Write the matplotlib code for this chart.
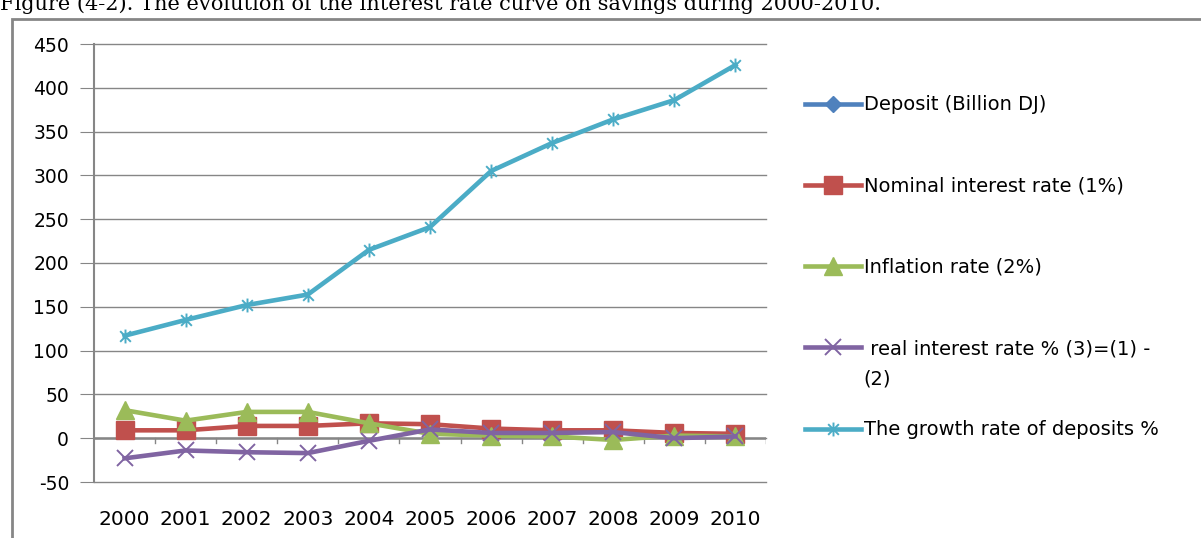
import numpy as np
import matplotlib.pyplot as plt
from matplotlib.path import Path
from matplotlib.patches import Rectangle

years = ["2000", "2001", "2002", "2003", "2004", "2005",
         "2006", "2007", "2008", "2009", "2010"]
nominal_rate = [9, 9, 14, 14, 17, 16, 11, 9, 9, 6, 5]
inflation_rate = [32, 20, 30, 30, 17, 5, 3, 2, -2, 3, 2]
real_rate = [-23, -14, -16, -17, -3, 10, 6, 6, 7, 0, 2]
deposit_growth = [117, 135, 152, 164, 215, 241, 305, 337, 364, 386, 426]

series_labels = ["Deposit (Billion DJ)", "Nominal interest rate (1%)",
                 "Inflation rate (2%)", " real interest rate % (3)=(1) -",
                 "The growth rate of deposits %"]

blue = "#4F81BD"
red = "#C0504D"
green = "#9BBB59"
purple = "#8064A2"
cyan = "#4BACC6"
grid_c = "#868686"

# asterisk marker: an x with a vertical stroke through it
star = Path([(-1, -1), (1, 1), (-1, 1), (1, -1), (0, -1.3), (0, 1.3)],
            [Path.MOVETO, Path.LINETO, Path.MOVETO, Path.LINETO,
             Path.MOVETO, Path.LINETO])

plt.rcParams['font.family'] = ['DejaVu Sans']
plt.rcParams['axes.unicode_minus'] = False

fig = plt.figure(figsize=(12.01, 5.38), dpi=100)

fig.text(0.0, 1.0 - 10 / 538, "Figure (4-2). The evolution of the interest rate curve on savings during 2000-2010.",
         family="DejaVu Serif", fontsize=15, va="baseline", ha="left")

fig.patches.append(Rectangle((12 / 1201, -0.1), 1.2, (538 - 19) / 538 + 0.1,
                             transform=fig.transFigure, fill=False,
                             edgecolor=grid_c, linewidth=2))

ax = fig.add_axes([94 / 1201, 56 / 538, (766 - 94) / 1201, (482 - 44) / 538])
x = np.arange(len(years))

lw = 3.3
l0, = ax.plot([], [], color=blue, lw=lw, marker="D", markersize=8)
l1, = ax.plot(x, nominal_rate, color=red, lw=lw, marker="s", markersize=12.5)
l2, = ax.plot(x, inflation_rate, color=green, lw=lw, marker="^", markersize=13)
l3, = ax.plot(x, real_rate, color=purple, lw=lw, marker="x", markersize=11, markeredgewidth=1.4)
l4, = ax.plot(x, deposit_growth, color=cyan, lw=lw, marker=star, markersize=10,
              markeredgewidth=1.4, markerfacecolor="none", markeredgecolor=cyan)

ax.set_xlim(-0.5, len(years) - 0.5)
ax.set_ylim(-50, 450)
ax.set_yticks(range(-50, 451, 50))
ax.yaxis.grid(True, color=grid_c, linewidth=1)
for g in ax.yaxis.get_gridlines():
    g.set_clip_on(False)
ax.set_axisbelow(True)
ax.axhline(0, color=grid_c, linewidth=1.8, zorder=1)

for side in ["top", "right", "bottom"]:
    ax.spines[side].set_visible(False)
ax.spines["left"].set_color(grid_c)
ax.spines["left"].set_linewidth(1.5)

ax.set_xticks(x)
ax.set_xticklabels(years)
ax.tick_params(axis="x", length=0, labelsize=14.5, pad=20)
ax.tick_params(axis="y", length=10, color=grid_c, labelsize=13.5, pad=8)

# category boundary ticks along the zero line
for b in np.arange(0.5, len(years), 1.0):
    ax.plot([b, b], [0, -6], color=grid_c, lw=1, zorder=1)

leg = fig.legend([l0, l1, l2, l3, l4], series_labels, loc="upper left",
                 bbox_to_anchor=(787 / 1201, 1 - 78 / 538), frameon=False,
                 fontsize=14, labelspacing=3.2, handlelength=2.9, handletextpad=0.15)

# wrapped tail of the fourth legend label
fig.canvas.draw()
bb = leg.get_texts()[3].get_window_extent()
fig.text(bb.x0, bb.y0 - 11, "(2)", fontsize=14, va="top", ha="left",
         transform=None)

fig.savefig("out.png", dpi=100)
